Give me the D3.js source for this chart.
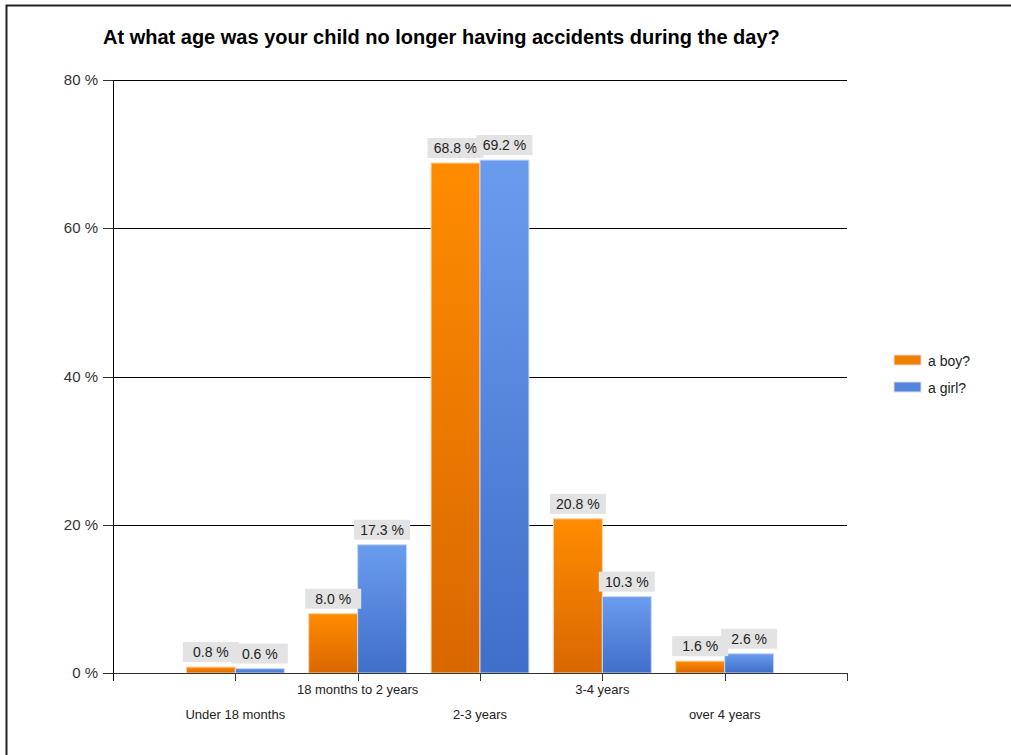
<!DOCTYPE html>
<html><head><meta charset="utf-8">
<script src="https://cdn.jsdelivr.net/npm/d3@7"></script>
<style>body{margin:0;background:#fff}svg{display:block}text{font-family:"Liberation Sans",Arial,sans-serif}</style>
</head><body><svg id="c" width="1011" height="755"></svg>
<script>
const title = "At what age was your child no longer having accidents during the day?";
const categories = ["Under 18 months","18 months to 2 years","2-3 years","3-4 years","over 4 years"];
const seriesNames = ["a boy?","a girl?"];
const boyValues = [0.8, 8.0, 68.8, 20.8, 1.6];
const girlValues = [0.6, 17.3, 69.2, 10.3, 2.6];
const yTicks = [0, 20, 40, 60, 80];

const svg = d3.select("#c");
const L = 113, R = 847, T = 80, B = 673;
const x = d3.scalePoint().domain(categories).range([L, R]).padding(1);
const y = d3.scaleLinear().domain([0, 80]).range([B, T]);
const bw = x.step() * 0.4;

const defs = svg.append("defs");
const grads = [["gBoy","#ff8c00","#d96700"],["gGirl","#6a9cee","#3f6fc9"]];
grads.forEach(([id,a,b])=>{
  const g = defs.append("linearGradient").attr("id",id).attr("x1",0).attr("y1",0).attr("x2",0).attr("y2",1);
  g.append("stop").attr("offset","0%").attr("stop-color",a);
  g.append("stop").attr("offset","100%").attr("stop-color",b);
});
const legendColors = ["#f08000","#5585dd"];

// frame
svg.append("rect").attr("x",6.5).attr("y",5.5).attr("width",1020).attr("height",800)
  .attr("fill","none").attr("stroke","#222").attr("stroke-width",2);

// title
svg.append("text").attr("x",103).attr("y",44).attr("font-size",20).attr("font-weight","bold")
  .attr("fill","#000").text(title);

// gridlines
svg.append("g").selectAll("line").data(yTicks.filter(d=>d>0)).join("line")
  .attr("x1",103).attr("x2",R).attr("y1",d=>Math.round(y(d))+0.5).attr("y2",d=>Math.round(y(d))+0.5)
  .attr("stroke","#000").attr("stroke-width",1);

// bars
const groups = categories.map((c,i)=>({c,vals:[boyValues[i],girlValues[i]]}));
const barData = [];
groups.forEach(g=>g.vals.forEach((v,j)=>barData.push({c:g.c,v,j})));
svg.append("g").selectAll("rect").data(barData).join("rect")
  .attr("x",d=>x(d.c) + (d.j===0 ? -bw : 0))
  .attr("y",d=>y(d.v)).attr("width",bw).attr("height",d=>B-y(d.v))
  .attr("fill",d=>d.j===0?"url(#gBoy)":"url(#gGirl)")
  .attr("stroke",d=>d.j===0?"#ffd0a0":"#c8d8f5").attr("stroke-width",1);

// value labels
const lg = svg.append("g");
barData.forEach(d=>{
  const cx = x(d.c) + (d.j===0 ? -bw/2 : bw/2);
  const top = y(d.v);
  lg.append("rect").attr("x",cx-28).attr("y",top-25).attr("width",56).attr("height",20).attr("fill","#e3e3e3");
  lg.append("text").attr("x",cx).attr("y",top-10).attr("text-anchor","middle").attr("font-size",14)
    .attr("fill","#222").text(d.v.toFixed(1)+" %");
});

// x axis
svg.append("line").attr("x1",103).attr("x2",R).attr("y1",B+0.5).attr("y2",B+0.5).attr("stroke","#333");
const xt = [L, ...categories.map(c=>x(c)), R];
svg.append("g").selectAll("line").data(xt).join("line")
  .attr("x1",d=>Math.round(d)+0.5).attr("x2",d=>Math.round(d)+0.5).attr("y1",B).attr("y2",B+8).attr("stroke","#333");
svg.append("g").selectAll("text").data(categories).join("text")
  .attr("x",d=>x(d)).attr("y",(d,i)=>i%2===0?719:694).attr("text-anchor","middle")
  .attr("font-size",13).attr("fill","#222").text(d=>d);

// y axis
svg.append("line").attr("x1",L+0.5).attr("x2",L+0.5).attr("y1",T).attr("y2",B+8).attr("stroke","#000");
svg.append("g").selectAll("line").data(yTicks).join("line")
  .attr("x1",103).attr("x2",L).attr("y1",d=>Math.round(y(d))+0.5).attr("y2",d=>Math.round(y(d))+0.5).attr("stroke","#333");
svg.append("g").selectAll("text").data(yTicks).join("text")
  .attr("x",98).attr("y",d=>y(d)+5).attr("text-anchor","end").attr("font-size",15).attr("fill","#333")
  .text(d=>d+" %");

// legend
const leg = svg.append("g");
seriesNames.forEach((n,i)=>{
  leg.append("rect").attr("x",894).attr("y",355+i*27).attr("width",27).attr("height",10)
    .attr("fill",legendColors[i]).attr("stroke","#ddd");
  leg.append("text").attr("x",928).attr("y",366+i*27).attr("font-size",14).attr("fill","#222").text(n);
});
</script></body></html>
